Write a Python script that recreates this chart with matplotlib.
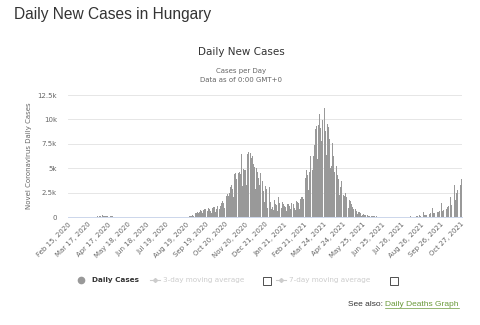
import matplotlib.pyplot as plt
import pandas as pd
from matplotlib.lines import Line2D
from matplotlib.patches import Rectangle

# daily new cases, one row per week (Sat..Fri), starting Feb 15, 2020
weekly_rows = [
    [0, 0, 0, 0, 0, 0, 0],
    [0, 0, 0, 0, 0, 0, 0],
    [0, 0, 0, 0, 2, 0, 0],
    [2, 1, 2, 2, 3, 3, 6],
    [2, 2, 7, 11, 12, 20, 18],
    [18, 20, 20, 39, 35, 38, 31],
    [43, 39, 55, 45, 60, 38, 41],
    [55, 62, 77, 73, 85, 210, 85],
    [82, 72, 52, 99, 100, 114, 84],
    [77, 45, 35, 95, 96, 73, 55],
    [52, 36, 24, 47, 45, 48, 40],
    [30, 17, 16, 41, 26, 27, 27],
    [21, 20, 14, 17, 18, 22, 20],
    [21, 12, 10, 12, 22, 18, 25],
    [18, 14, 9, 21, 15, 11, 12],
    [7, 6, 8, 5, 10, 11, 11],
    [6, 4, 6, 7, 9, 5, 7],
    [7, 3, 5, 3, 6, 14, 5],
    [4, 5, 2, 3, 8, 12, 9],
    [4, 7, 5, 11, 10, 13, 8],
    [9, 6, 8, 8, 11, 10, 7],
    [10, 5, 8, 12, 14, 19, 10],
    [16, 12, 10, 9, 18, 21, 14],
    [14, 15, 10, 26, 24, 18, 20],
    [14, 10, 13, 18, 24, 22, 18],
    [27, 31, 12, 16, 22, 24, 30],
    [38, 41, 17, 32, 45, 44, 55],
    [60, 30, 48, 90, 132, 120, 146],
    [160, 292, 150, 245, 306, 364, 459],
    [401, 510, 210, 360, 509, 617, 710],
    [696, 640, 379, 694, 768, 797, 916],
    [859, 757, 538, 607, 872, 922, 820],
    [739, 580, 434, 772, 908, 1013, 1075],
    [1062, 704, 502, 831, 1040, 1113, 1140],
    [1060, 780, 640, 1103, 1480, 1583, 1600],
    [1440, 1150, 929, 1618, 1922, 2120, 2200],
    [2400, 2150, 1500, 2500, 3100, 3300, 3250],
    [3300, 2900, 2100, 3700, 4400, 4500, 4100],
    [3900, 3400, 2600, 4500, 4800, 4600, 4400],
    [4300, 6500, 3200, 4700, 4900, 4600, 4800],
    [4800, 4200, 3300, 6500, 5200, 6700, 5400],
    [5000, 6600, 3500, 6000, 6200, 5800, 5400],
    [5100, 4200, 2900, 6000, 5000, 4600, 4400],
    [4000, 3300, 2100, 4500, 4300, 4000, 3700],
    [3200, 2700, 1500, 3000, 3200, 2900, 1300],
    [900, 800, 600, 3100, 2900, 1500, 800],
    [1200, 1000, 700, 3100, 1700, 1500, 1300],
    [1200, 1000, 650, 2100, 1500, 1400, 1300],
    [1100, 900, 600, 1500, 1300, 1200, 1150],
    [1000, 850, 600, 1450, 1300, 1350, 1250],
    [1100, 850, 600, 1400, 1500, 1350, 1300],
    [1200, 950, 700, 1500, 1600, 1550, 1400],
    [1400, 1150, 850, 1800, 2000, 2100, 2000],
    [2200, 1800, 1300, 3000, 4000, 4400, 4800],
    [4300, 3500, 2800, 4600, 5900, 6300, 6200],
    [5600, 4800, 3800, 6300, 7400, 8300, 9000],
    [9300, 7400, 5900, 8000, 9400, 10600, 10200],
    [9100, 7800, 6200, 9900, 10600, 10800, 11200],
    [10500, 8800, 6400, 8600, 9500, 9200, 8300],
    [8000, 6400, 5000, 5200, 7000, 7600, 6300],
    [5500, 4600, 3300, 4500, 5200, 5100, 4300],
    [3900, 3300, 2300, 3100, 3600, 3700, 3200],
    [2800, 2300, 1600, 2200, 2450, 2400, 2100],
    [1800, 1500, 900, 1300, 1750, 1600, 1400],
    [1300, 1000, 520, 800, 1050, 1000, 870],
    [700, 580, 280, 460, 550, 520, 440],
    [380, 300, 150, 190, 300, 270, 230],
    [200, 160, 80, 100, 200, 160, 130],
    [120, 90, 45, 60, 120, 100, 90],
    [80, 60, 30, 35, 70, 55, 45],
    [0, 0, 50, 20, 25, 25, 30],
    [0, 0, 30, 10, 12, 14, 15],
    [0, 0, 25, 6, 8, 8, 10],
    [0, 0, 25, 6, 8, 10, 10],
    [0, 0, 30, 8, 10, 12, 12],
    [0, 0, 40, 10, 15, 15, 20],
    [0, 0, 60, 15, 20, 25, 25],
    [0, 0, 90, 25, 30, 35, 40],
    [0, 0, 150, 40, 50, 55, 60],
    [0, 0, 200, 60, 70, 80, 90],
    [0, 0, 500, 180, 200, 220, 230],
    [0, 0, 700, 300, 330, 350, 380],
    [0, 0, 900, 400, 420, 450, 480],
    [0, 0, 1050, 480, 500, 560, 600],
    [0, 0, 1400, 600, 650, 700, 760],
    [0, 0, 1600, 800, 900, 1000, 1100],
    [0, 0, 2100, 1100, 1250, 1400, 1750],
    [0, 0, 3300, 1700, 2100, 2500, 2800],
    [0, 0, 6600, 3000, 3300, 3600, 3900],
]
daily_cases = [v for row in weekly_rows for v in row]
dates = pd.date_range("2020-02-15", periods=len(daily_cases))
tick_labels = [d.strftime("%b %d, %Y") for d in dates[::31]]

y_ticks = [0, 2500, 5000, 7500, 10000, 12500]
y_labels = ["0", "2.5k", "5k", "7.5k", "10k", "12.5k"]

W, H = 480, 325
fig = plt.figure(figsize=(4.8, 3.25), dpi=100)
fig.patch.set_facecolor("white")

def fx(px):
    return px / W

def fy(py):
    return 1 - py / H

ax = fig.add_axes([fx(68), fy(217), fx(462) - fx(68), fy(95) - fy(217)])
n = len(daily_cases)
ax.bar(range(n), daily_cases, width=0.9, color="#999999", linewidth=0)
ax.set_xlim(-0.5, n - 0.5)
ax.set_ylim(0, 12500)

ax.set_yticks(y_ticks)
ax.set_yticklabels(y_labels, fontsize=5, color="#666666")
ax.set_xticks(range(0, n, 31))
ax.set_xticklabels(tick_labels, fontsize=5, color="#666666",
                   rotation=45, ha="right", rotation_mode="anchor")
ax.tick_params(axis="y", length=0, pad=8)
ax.tick_params(axis="x", length=0, pad=3)
ax.grid(axis="y", color="#e6e6e6", linewidth=0.7)
ax.set_axisbelow(True)
for s in ["top", "right", "left"]:
    ax.spines[s].set_visible(False)
ax.spines["bottom"].set_color("#ccd6eb")
ax.spines["bottom"].set_linewidth(0.7)
fig.text(fx(29), fy(156), "Novel Coronavirus Daily Cases", fontsize=5, color="#666666",
         rotation=90, ha="center", va="center")

# titles
fig.text(fx(14), fy(14), "Daily New Cases in Hungary", fontsize=11.2, color="#333333",
         family="Liberation Sans", ha="left", va="center")
fig.text(fx(241), fy(52), "Daily New Cases", fontsize=7.5, color="#333333",
         ha="center", va="center")
fig.text(fx(241), fy(71), "Cases per Day", fontsize=5, color="#666666",
         ha="center", va="center")
fig.text(fx(241), fy(80.5), "Data as of 0:00 GMT+0", fontsize=5, color="#666666",
         ha="center", va="center")

# legend
ly = fy(280)
fig.add_artist(Line2D([fx(81)], [ly], marker="o", markersize=4.5, color="#999999",
                      transform=fig.transFigure))
fig.text(fx(91.5), ly, "Daily Cases", fontsize=5.2, fontweight="bold", color="#333333",
         va="center")
for x0, label, bx in [(150, "3-day moving average", 267), (276, "7-day moving average", 394)]:
    fig.add_artist(Line2D([fx(x0), fx(x0 + 10)], [ly, ly], color="#cccccc", linewidth=0.8,
                          transform=fig.transFigure))
    fig.add_artist(Line2D([fx(x0 + 5)], [ly], marker="D", markersize=2, color="#cccccc",
                          transform=fig.transFigure))
    fig.text(fx(x0 + 13), ly, label, fontsize=5.2, color="#cccccc", va="center")
    fig.add_artist(Rectangle((fx(bx - 4), fy(285)), fx(8), fy(0) - fy(8), fill=False,
                             edgecolor="#333333", linewidth=0.6, transform=fig.transFigure))

# see also link
t1 = fig.text(fx(348), fy(304), "See also: ", fontsize=6, color="#333333",
              family="Liberation Sans", va="center")
fig.canvas.draw()
r = fig.canvas.get_renderer()
bb = t1.get_window_extent(r)
t2 = fig.text(bb.x1 / W, fy(304), "Daily Deaths Graph", fontsize=6, color="#6a9a3a",
              family="Liberation Sans", va="center")
bb2 = t2.get_window_extent(r)
fig.add_artist(Line2D([bb2.x0 / W, bb2.x1 / W], [fy(308), fy(308)], color="#6a9a3a",
                      linewidth=0.5, transform=fig.transFigure))

fig.savefig("out.png", dpi=100)
